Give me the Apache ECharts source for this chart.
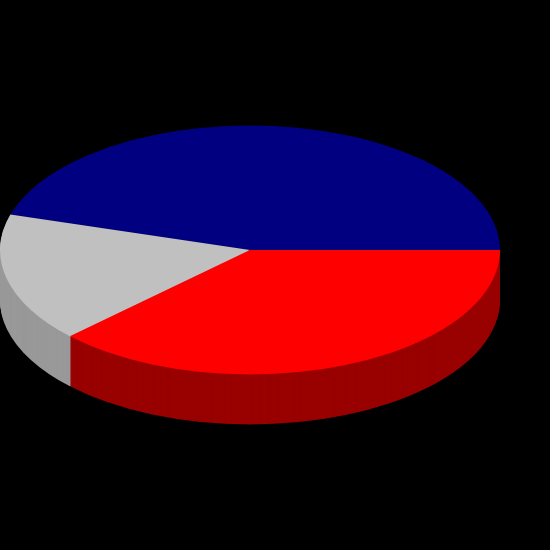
<!DOCTYPE html>
<html>
<head>
<meta charset="utf-8">
<script src="https://cdn.jsdelivr.net/npm/echarts@6/dist/echarts.min.js"></script>
<style>
  html, body { margin: 0; padding: 0; background: #000; }
  #main { width: 550px; height: 550px; }
</style>
</head>
<body>
<div id="main"></div>
<script>
// slice values, counterclockwise from 3 o'clock
var sliceNames = ['A', 'B', 'C'];
var sliceValues = [45.4, 16.8, 37.8];
var topColors = ['#000080', '#c0c0c0', '#ff0000'];
var sideColors = ['#000050', '#999999', '#990000'];

var total = sliceValues.reduce(function (a, b) { return a + b; }, 0);
var cx = 250, cy = 250, rx = 250, ry = 124.5, depth = 50;

function renderSlice(params, api) {
    var i = params.dataIndex;
    var before = 0;
    for (var j = 0; j < i; j++) before += sliceValues[j];
    var a0 = -(before + sliceValues[i]) / total * Math.PI * 2;
    var a1 = -before / total * Math.PI * 2;
    var children = [];
    // side wall: stacked darker layers from the bottom up
    for (var k = depth; k >= 1; k--) {
        children.push({
            type: 'sector',
            x: cx, y: cy + k, scaleY: ry / rx,
            shape: { cx: 0, cy: 0, r: rx, startAngle: a0, endAngle: a1, clockwise: true },
            style: { fill: sideColors[i] },
            z2: depth - k
        });
    }
    return { type: 'group', children: children };
}

function renderTop(params, api) {
    var i = params.dataIndex;
    var before = 0;
    for (var j = 0; j < i; j++) before += sliceValues[j];
    var a0 = -(before + sliceValues[i]) / total * Math.PI * 2;
    var a1 = -before / total * Math.PI * 2;
    return {
        type: 'sector',
        x: cx, y: cy, scaleY: ry / rx,
        shape: { cx: 0, cy: 0, r: rx, startAngle: a0, endAngle: a1, clockwise: true },
        style: { fill: topColors[i] }
    };
}

var chart = echarts.init(document.getElementById('main'));
chart.setOption({
    backgroundColor: '#000',
    animation: false,
    series: [
        {
            type: 'custom',
            coordinateSystem: 'none',
            renderItem: renderSlice,
            data: sliceValues.map(function (v, i) { return { name: sliceNames[i], value: v }; }),
            z: 1
        },
        {
            type: 'custom',
            coordinateSystem: 'none',
            renderItem: renderTop,
            data: sliceValues.map(function (v, i) { return { name: sliceNames[i], value: v }; }),
            z: 2
        }
    ]
});
</script>
</body>
</html>
